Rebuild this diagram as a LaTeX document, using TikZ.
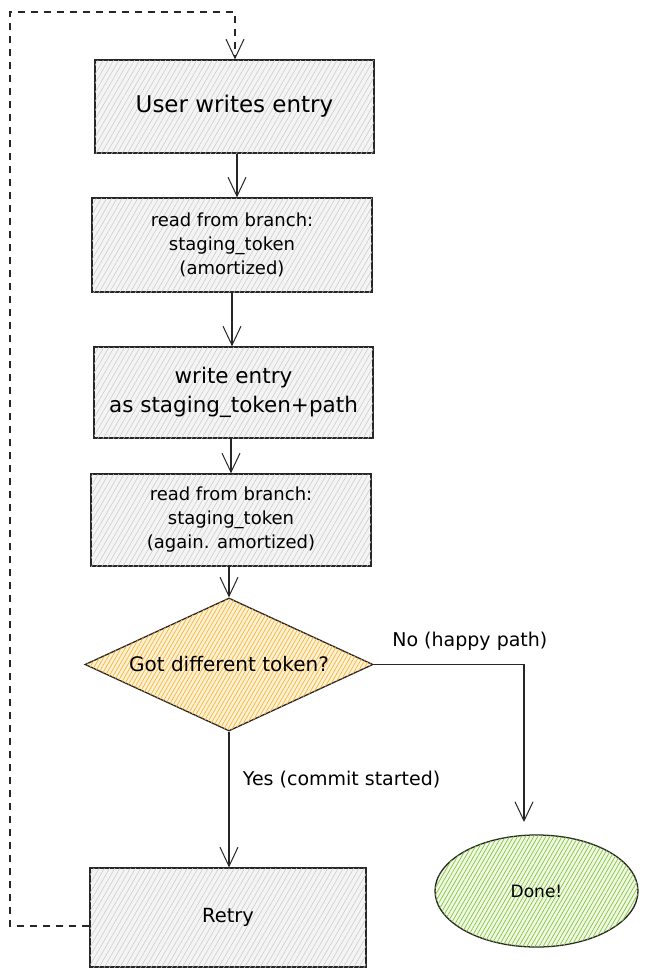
\documentclass[tikz,border=0pt]{standalone}
\usepackage{fontspec}
\setmainfont{DejaVu Sans}
\usetikzlibrary{shapes.geometric,arrows.meta,patterns.meta}
\definecolor{boxhatch}{HTML}{C8C8C8}
\definecolor{boxfill}{HTML}{F4F4F4}
\definecolor{orhatch}{HTML}{F8B534}
\definecolor{orfill}{HTML}{FFF1D6}
\definecolor{grhatch}{HTML}{86C53A}
\definecolor{grfill}{HTML}{F0F8E6}
\tikzset{
  stepbox/.style={draw=black!85, line width=1.3pt, fill=boxfill, inner sep=0pt,
    postaction={pattern={Lines[angle=60,distance=4.5pt,line width=0.5pt]}, pattern color=boxhatch},
    align=center, text=black},
  decision/.style={diamond, draw=black!85, line width=1.3pt, fill=orfill, inner sep=0pt, aspect=2.17,
    postaction={pattern={Lines[angle=60,distance=3.5pt,line width=0.7pt]}, pattern color=orhatch},
    minimum width=288pt, minimum height=133pt},
  endnode/.style={ellipse, draw=black!85, line width=1.3pt, fill=grfill, inner sep=0pt,
    postaction={pattern={Lines[angle=60,distance=3.5pt,line width=0.7pt]}, pattern color=grhatch},
    minimum width=203pt, minimum height=112pt},
  flow/.style={draw=black!85, line width=1.2pt, -{Straight Barb[length=19pt,width=18pt,line width=1pt]}},
  loopback/.style={flow, dash pattern=on 7pt off 6pt},
  bigtxt/.style={font=\fontsize{23}{28}\selectfont},
  midtxt/.style={font=\fontsize{21.5}{29}\selectfont},
  smalltxt/.style={font=\fontsize{18}{24}\selectfont},
  lbl/.style={font=\fontsize{19}{20}\selectfont, text=black},
}
\begin{document}
\begin{tikzpicture}[x=1pt,y=-1pt]
\useasboundingbox[fill=white] (0,0) rectangle (658,977);
\node[stepbox, bigtxt, minimum width=279pt, minimum height=93pt] (b1) at (234.5,106.5) {User writes entry};
\node[stepbox, smalltxt, minimum width=280pt, minimum height=94pt] (b2) at (232,245) {read from branch:\\staging\_token\\(amortized)};
\node[stepbox, midtxt, minimum width=279pt, minimum height=91pt] (b3) at (233.5,392.5) {write entry\\as staging\_token+path};
\node[stepbox, smalltxt, minimum width=280pt, minimum height=92pt] (b4) at (231,520) {read from branch:\\staging\_token\\(again. amortized)};
\node[decision, font=\fontsize{20}{20}\selectfont] (d) at (229,664.5) {Got different token?};
\node[stepbox, font=\fontsize{19.5}{20}\selectfont, minimum width=276pt, minimum height=99pt] (r) at (228,917.5) {Retry};
\node[endnode, font=\fontsize{17}{18}\selectfont] (done) at (536.5,891) {Done!};
\coordinate (c1) at (524,664.5);
\coordinate (c2) at (524,828);
\coordinate (l1) at (10,926);
\coordinate (l2) at (10,12);
\coordinate (l3) at (235,12);
\draw[flow] (b1.south -| 237,0) -- (b2.north -| 237,0);
\draw[flow] (b2.south -| 232,0) -- (b3.north -| 232,0);
\draw[flow] (b3.south -| 231,0) -- (b4.north -| 231,0);
\draw[flow] (b4.south -| 229,0) -- (d.north);
\draw[flow] (d.south) -- node[lbl, right, pos=0.35, xshift=10pt] {Yes (commit started)} (r.north -| d.south);
\draw[flow, shorten >=6pt] (d.east) -- node[lbl, above, pos=0.64, yshift=10pt] {No (happy path)} (c1) -- (c2);
\draw[loopback] (r.west |- l1) -- (l1) -- (l2) -- (l3) -- (b1.north -| l3);
\end{tikzpicture}
\end{document}
